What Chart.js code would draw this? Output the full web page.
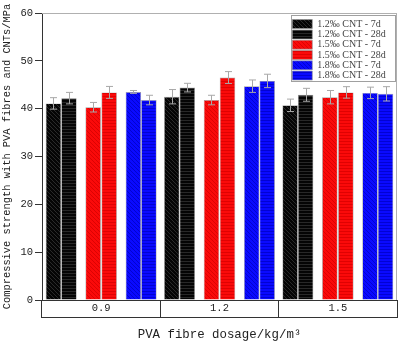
<!DOCTYPE html>
<html><head><meta charset="utf-8">
<script src="https://cdn.jsdelivr.net/npm/chart.js@4.4.1/dist/chart.umd.min.js"></script>
<style>html,body{margin:0;padding:0;background:#fff}#wrap{width:400px;height:343px}</style>
</head><body><div id="wrap"><canvas id="c" width="400" height="343"></canvas></div>
<script>
// ---- data ----
const categories = ['0.9', '1.2', '1.5'];
const seriesLabels = ['1.2‰ CNT - 7d', '1.2‰ CNT - 28d', '1.5‰ CNT - 7d', '1.5‰ CNT - 28d', '1.8‰ CNT - 7d', '1.8‰ CNT - 28d'];
const cnt12_7d  = [41.1, 42.5, 40.7];
const cnt12_28d = [42.2, 44.4, 42.9];
const cnt15_7d  = [40.3, 41.8, 42.4];
const cnt15_28d = [43.4, 46.5, 43.4];
const cnt18_7d  = [43.5, 44.7, 43.3];
const cnt18_28d = [41.8, 45.8, 43.1];
const err12_7d  = [1.2, 1.5, 1.3];
const err12_28d = [1.2, 0.9, 1.35];
const err15_7d  = [1.0, 1.0, 1.4];
const err15_28d = [1.25, 1.25, 1.2];
const err18_7d  = [0.3, 1.3, 1.2];
const err18_28d = [1.0, 1.4, 1.5];
const yTicks = [0, 10, 20, 30, 40, 50, 60];

// ---- styles ----
const canvas = document.getElementById('c');
const mainCtx = canvas.getContext('2d');
function hatch(bg, line, kind) {
  const s = kind === 'diag' ? 4 : 3;
  const c = document.createElement('canvas'); c.width = s; c.height = s;
  const g = c.getContext('2d');
  g.fillStyle = bg; g.fillRect(0, 0, s, s);
  g.strokeStyle = line; g.lineWidth = 0.8;
  g.beginPath();
  if (kind === 'diag') {
    g.moveTo(-1, -1); g.lineTo(s + 1, s + 1);
    g.moveTo(-1, s - 1); g.lineTo(1, s + 1);
    g.moveTo(s - 1, -1); g.lineTo(s + 1, 1);
  } else {
    g.moveTo(0, 0.5); g.lineTo(s, 0.5);
  }
  g.stroke();
  return mainCtx.createPattern(c, 'repeat');
}
const fills = [
  hatch('#050505', '#333333', 'diag'),
  hatch('#050505', '#313131', 'horiz'),
  hatch('#fa0a0a', '#d40000', 'diag'),
  hatch('#fa0a0a', '#d80000', 'horiz'),
  hatch('#0a0aff', '#0000c4', 'diag'),
  hatch('#0a0aff', '#0000c8', 'horiz')
];
// per-dataset slot geometry (pairs with gaps between them)
const slotGeom = [
  {cp: 0.9677, bp: 0.8124}, {cp: 1.0888, bp: 0.7219}, {cp: 0.8115, bp: 0.9687},
  {cp: 0.8115, bp: 0.9687}, {cp: 1.0888, bp: 0.7219}, {cp: 0.9677, bp: 0.8124}
];
const values = [cnt12_7d, cnt12_28d, cnt15_7d, cnt15_28d, cnt18_7d, cnt18_28d];
const errors = [err12_7d, err12_28d, err15_7d, err15_28d, err18_7d, err18_28d];

const datasets = seriesLabels.map((lab, i) => ({
  label: lab,
  data: values[i],
  errorBars: errors[i],
  backgroundColor: fills[i],
  borderColor: 'rgba(150,150,150,0.9)',
  borderWidth: 0.7,
  categoryPercentage: slotGeom[i].cp,
  barPercentage: slotGeom[i].bp
}));

const errorBarPlugin = {
  id: 'errorBarPlugin',
  afterDatasetsDraw(chart) {
    const ctx = chart.ctx, ys = chart.scales.y;
    ctx.save();
    ctx.strokeStyle = '#a8a8a8';
    ctx.lineWidth = 1;
    chart.data.datasets.forEach((ds, i) => {
      const meta = chart.getDatasetMeta(i);
      meta.data.forEach((bar, j) => {
        const v = ds.data[j], e = ds.errorBars[j];
        const yt = ys.getPixelForValue(v + e), yb = ys.getPixelForValue(v - e);
        const x = Math.round(bar.x) + 0.5;
        ctx.beginPath();
        ctx.moveTo(x, yt); ctx.lineTo(x, yb);
        ctx.moveTo(x - 3.5, yt); ctx.lineTo(x + 3.5, yt);
        ctx.moveTo(x - 3.5, yb); ctx.lineTo(x + 3.5, yb);
        ctx.stroke();
      });
    });
    ctx.restore();
  }
};

const framePlugin = {
  id: 'framePlugin',
  beforeDatasetsDraw(chart) {
    const ctx = chart.ctx, a = chart.chartArea;
    ctx.save();
    ctx.strokeStyle = '#b0b0b0'; ctx.lineWidth = 1;
    ctx.beginPath();
    ctx.moveTo(a.left, Math.round(a.top) + 0.5); ctx.lineTo(a.right, Math.round(a.top) + 0.5);
    ctx.moveTo(Math.round(a.right) - 0.5, a.top); ctx.lineTo(Math.round(a.right) - 0.5, a.bottom);
    ctx.stroke();
    ctx.restore();
  },
  afterDraw(chart) {
    const ctx = chart.ctx, xs = chart.scales.x;
    const tl = xs.options.grid.tickLength;
    ctx.save();
    ctx.strokeStyle = '#333'; ctx.lineWidth = 1;
    ctx.beginPath();
    const yb = Math.round(xs.top + tl) - 0.5;
    ctx.moveTo(xs.left - 0.5, yb); ctx.lineTo(xs.right + 0.5, yb);
    ctx.stroke();
    ctx.restore();
  }
};

const legendInside = {
  id: 'legendInside',
  beforeInit(chart) {
    const lg = chart.legend;
    if (!lg) return;
    const fit = lg.fit;
    lg.fit = function () { fit.call(this); this.width = 0; };
  },
  afterLayout(chart) {
    const lg = chart.legend, a = chart.chartArea;
    if (!lg) return;
    const boxL = a.right - 106, boxT = a.top + 2, boxW = 104, boxH = 66;
    chart.$legendBox = {x: boxL, y: boxT, w: boxW, h: boxH};
    lg.left = boxL + 1; lg.top = boxT + 3.8;
    lg.right = boxL + boxW; lg.bottom = boxT + boxH;
    lg.width = lg.right - lg.left; lg.height = lg.bottom - lg.top;
  },
  beforeDraw(chart) {
    const b = chart.$legendBox; if (!b) return;
    const ctx = chart.ctx;
    ctx.save();
    ctx.fillStyle = '#fff';
    ctx.fillRect(b.x, b.y, b.w, b.h);
    ctx.strokeStyle = '#a0a0a0'; ctx.lineWidth = 1;
    ctx.strokeRect(Math.round(b.x) + 0.5, Math.round(b.y) + 0.5, Math.round(b.w), Math.round(b.h));
    ctx.restore();
  }
};

new Chart(canvas, {
  type: 'bar',
  data: { labels: categories, datasets },
  options: {
    responsive: false,
    animation: false,
    layout: { padding: { top: 13, right: 3, left: 0, bottom: 0 } },
    plugins: {
      tooltip: { enabled: false },
      legend: {
        display: true,
        position: 'right',
        align: 'start',
        labels: {
          boxWidth: 20, boxHeight: 9, padding: 0.3,
          font: { family: 'Liberation Serif', size: 10 },
          color: '#444'
        }
      }
    },
    scales: {
      x: {
        type: 'category',
        offset: true,
        grid: { display: true, drawOnChartArea: false, drawTicks: true, tickLength: 18, color: '#333', offset: true },
        border: { display: true, color: '#333', width: 1 },
        ticks: { padding: -15.6, autoSkip: false, maxRotation: 0,
                 font: { family: 'Liberation Mono', size: 10.5 }, color: '#222' },
        title: { display: true, text: 'PVA fibre dosage/kg/m³',
                 font: { family: 'Liberation Mono', size: 12.4 }, color: '#222',
                 padding: { top: 0, bottom: 1 } },
        afterFit(s) { s.height = 43; }
      },
      y: {
        min: 0, max: 60,
        afterBuildTicks(s) { s.ticks = yTicks.map(v => ({ value: v })); },
        ticks: { padding: 2, font: { family: 'Liberation Mono', size: 10.5 }, color: '#222' },
        grid: { drawOnChartArea: false, drawTicks: true, tickLength: 7, color: '#333' },
        border: { display: true, color: '#333', width: 1 },
        title: { display: true, text: 'Compressive strength with PVA fibres and CNTs/MPa',
                 font: { family: 'Liberation Mono', size: 10.4 }, color: '#222',
                 padding: { top: 1.2, bottom: 0 } },
        afterFit(s) { s.width = 42; }
      }
    }
  },
  plugins: [errorBarPlugin, framePlugin, legendInside]
});
</script>
</body></html>
